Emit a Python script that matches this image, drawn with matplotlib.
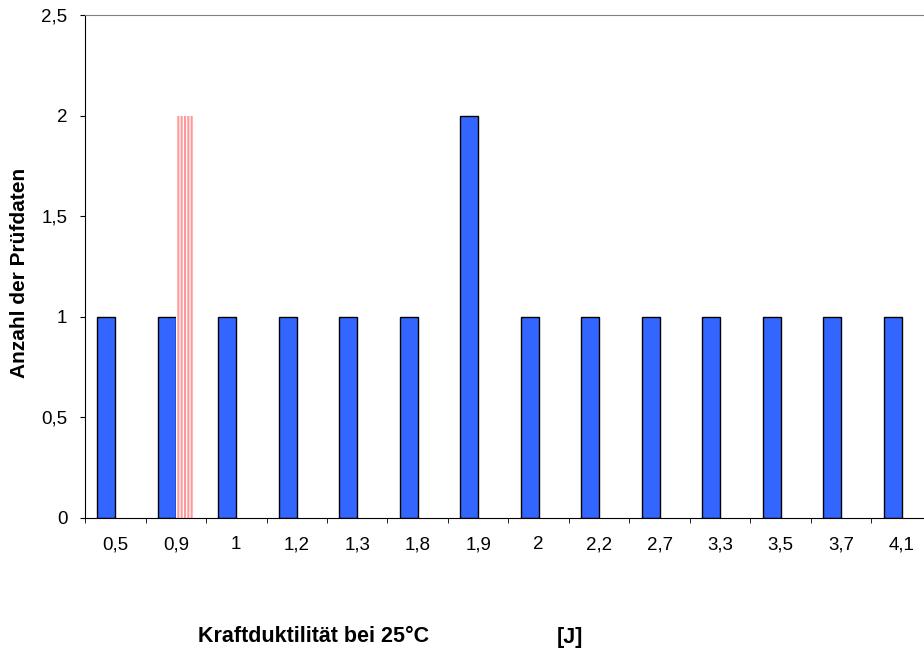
import numpy as np
import matplotlib
matplotlib.use('Agg')
import matplotlib.pyplot as plt

matplotlib.rcParams.update({'font.family': ['Liberation Sans', 'DejaVu Sans'],
                            'hatch.linewidth': 1.5})

#### Daten ####
kategorien = ['0,5', '0,9', '1', '1,2', '1,3', '1,8', '1,9', '2',
              '2,2', '2,7', '3,3', '3,5', '3,7', '4,1']
anzahl = [1, 1, 1, 1, 1, 1, 2, 1, 1, 1, 1, 1, 1, 1]
markiert = [0, 2, 0, 0, 0, 0, 0, 0, 0, 0, 0, 0, 0, 0]
y_ticks = [0, 0.5, 1, 1.5, 2, 2.5]
y_labels = ['0', '0,5', '1', '1,5', '2', '2,5']

fig = plt.figure(figsize=(9.24, 6.51), dpi=100)
# Achse geht rechts etwas über das Bild hinaus (wie im Original)
ax = fig.add_axes([85/924, 1-518/651, 847/924, 503/651])

x = np.arange(len(kategorien))
w = 0.30
ax.bar(x - w/2, anzahl, width=w, color='#3366FF', edgecolor='black', linewidth=1.0)
ax.bar(x + w/2, markiert, width=w, color='white', edgecolor='#FF9999',
       linewidth=0, hatch='|||||')

ax.set_xlim(-0.5, len(kategorien) - 0.5)
ax.set_ylim(0, 2.5)
ax.set_yticks(y_ticks)
ax.set_yticklabels(y_labels, fontsize=13.5)
ax.set_xticks(x)
ax.set_xticklabels(kategorien, fontsize=13.5)
ax.set_xticks(np.arange(len(kategorien) + 1) - 0.5, minor=True)
ax.tick_params(axis='x', which='major', length=0, pad=13)
ax.tick_params(axis='x', which='minor', length=3.6, direction='out')
ax.tick_params(axis='y', length=3.6, direction='out', pad=9)

ax.spines['top'].set_color('#808080')
ax.spines['right'].set_visible(False)

fig.text(20/924, 1-273/651, 'Anzahl der Prüfdaten', fontsize=15, weight='bold',
         rotation=90, ha='center', va='center')
fig.text(198/924, 1-637/651, 'Kraftduktilität bei 25°C',
         fontsize=15.5, weight='bold', va='center', ha='left')
fig.text(557/924, 1-637/651, '[J]',
         fontsize=15.5, weight='bold', va='center', ha='left')

fig.savefig('out.png', dpi=100)
